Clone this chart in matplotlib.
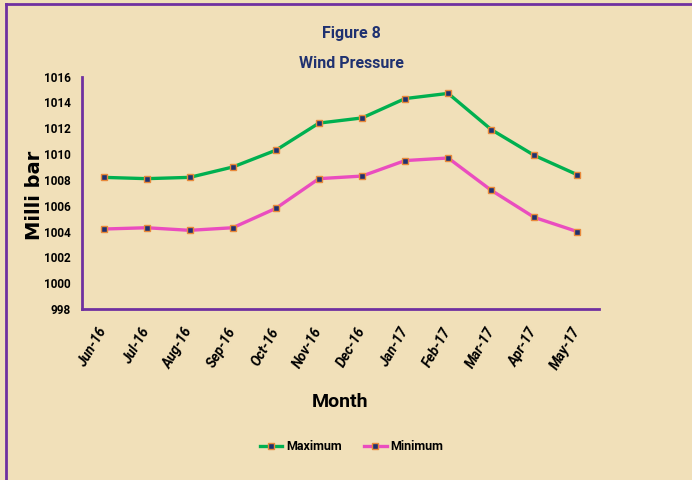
import matplotlib.pyplot as plt
from matplotlib.lines import Line2D

months = ["Jun-16", "Jul-16", "Aug-16", "Sep-16", "Oct-16", "Nov-16",
          "Dec-16", "Jan-17", "Feb-17", "Mar-17", "Apr-17", "May-17"]
maximum = [1008.2, 1008.1, 1008.2, 1009.0, 1010.3, 1012.4,
           1012.8, 1014.3, 1014.7, 1011.9, 1009.9, 1008.4]
minimum = [1004.2, 1004.3, 1004.1, 1004.3, 1005.8, 1008.1,
           1008.3, 1009.5, 1009.7, 1007.2, 1005.1, 1004.0]
yticks = list(range(998, 1017, 2))

bg = "#F1E0B9"
purple = "#7030A0"
navy = "#1F3170"
narrow = ["Roboto", "DejaVu Sans"]

fig = plt.figure(figsize=(6.92, 4.8), dpi=100)
fig.patch.set_facecolor(bg)
# purple frame on top and left like the original chart area
fig.add_artist(Line2D([0.009, 0.009], [0.0, 0.992], color=purple, lw=2,
                      transform=fig.transFigure))
fig.add_artist(Line2D([0.009, 1.0], [0.992, 0.992], color=purple, lw=2,
                      transform=fig.transFigure))

ax = fig.add_axes([0.1185, 0.356, 0.747, 0.4844])
ax.set_facecolor(bg)

x = range(len(months))
mk = dict(marker="s", markersize=4, markerfacecolor=navy,
          markeredgecolor="#E8893A", markeredgewidth=1)
ax.plot(x, maximum, color="#00B050", lw=2.4, label="Maximum", **mk)
ax.plot(x, minimum, color="#EA4DBF", lw=2.4, label="Minimum", **mk)

ax.set_xlim(-0.5, len(months) - 0.5)
ax.set_ylim(998, 1016)
ax.set_yticks(yticks)
ax.set_yticklabels([str(v) for v in yticks], family=narrow,
                   fontweight="bold", fontsize=8.5)
ax.set_xticks(list(x))
ax.set_xticklabels(months, family=narrow, fontweight="bold", style="italic",
                   fontsize=10, rotation=60, ha="right", va="center",
                   rotation_mode="anchor")
ax.tick_params(axis="y", length=0, pad=8)
ax.tick_params(axis="x", length=0, pad=14)

for s in ["top", "right"]:
    ax.spines[s].set_visible(False)
for s in ["left", "bottom"]:
    ax.spines[s].set_color(purple)
    ax.spines[s].set_linewidth(2)

fig.text(0.508, 0.93, "Figure 8", family=narrow, fontweight="bold",
         fontsize=11.5, color=navy, ha="center", va="center")
fig.text(0.508, 0.868, "Wind Pressure", family=narrow, fontweight="bold",
         fontsize=11.5, color=navy, ha="center", va="center")
fig.text(0.05, 0.594, "Milli bar", family="DejaVu Sans",
         fontweight="bold", fontsize=14, rotation=90, ha="center", va="center")
fig.text(0.491, 0.162, "Month", family=narrow, fontweight="bold",
         fontsize=14, ha="center", va="center")

fig.legend(loc="center", bbox_to_anchor=(0.508, 0.07), ncol=2, frameon=False,
           prop={"family": narrow, "weight": "bold", "size": 9},
           handlelength=1.8, columnspacing=1.8, handletextpad=0.3)

fig.savefig("out.png", dpi=100, facecolor=bg)
